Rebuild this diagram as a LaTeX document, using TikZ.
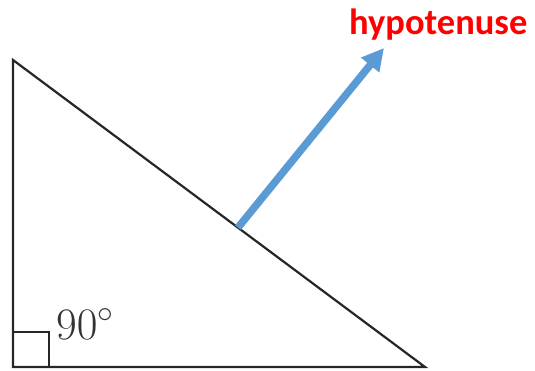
\RequirePackage{fix-cm}
\documentclass[tikz,border=0pt]{standalone}
\usepackage{fontspec}
\usepackage{xcolor}
\usepackage{tikz}
\usetikzlibrary{arrows.meta, positioning, calc}
\newfontfamily\calloutfont{Carlito}
\definecolor{officeblue}{HTML}{5B9BD5}
\definecolor{calloutred}{HTML}{FF0000}

\begin{document}
\begin{tikzpicture}[
    x=1pt, y=-1pt,
    % 1. LADOS DEL TRIANGULO
    side/.style={line width=2.2pt, draw=black!85, line join=miter},
    % 2. MARCA DEL ANGULO RECTO
    rightmark/.style={line width=1.7pt, draw=black!85},
    % 3. FLECHA GRUESA HACIA LA ETIQUETA
    pointer/.style={
        -{Triangle[length=22pt, width=22pt]},
        line width=7.5pt, color=officeblue
    },
    % 4. ETIQUETAS
    anglelabel/.style={inner sep=0pt, anchor=base west,
        font=\fontsize{45}{54}\selectfont, text=black!80},
    callout/.style={inner sep=0pt, anchor=base west,
        font=\calloutfont\bfseries\fontsize{36.5}{44}\selectfont, text=calloutred}
]
    \useasboundingbox (0,0) rectangle (535,371);

    % --- VERTICES ---
    \coordinate (apex)   at (13, 60);
    \coordinate (corner) at (13, 367);
    \coordinate (base)   at (425, 367);

    % --- TRIANGULO ---
    \draw[side] (apex) -- (corner) -- (base) -- cycle;

    % --- ANGULO RECTO ---
    \draw[rightmark] ($(corner)+(0,-35)$) -- ++(36,0) -- ++(0,35);
    \node[anglelabel] (ninety) at (56, 339) {$90^\circ$};

    % --- ETIQUETA Y FLECHA ---
    \node[callout] (hyplabel) at (349, 35) {hypotenuse};
    \coordinate (foot) at ($(apex)!0.546!(base)$);
    \coordinate (tip)  at (384, 48);
    \draw[pointer] (foot) -- (tip);

\end{tikzpicture}
\end{document}
